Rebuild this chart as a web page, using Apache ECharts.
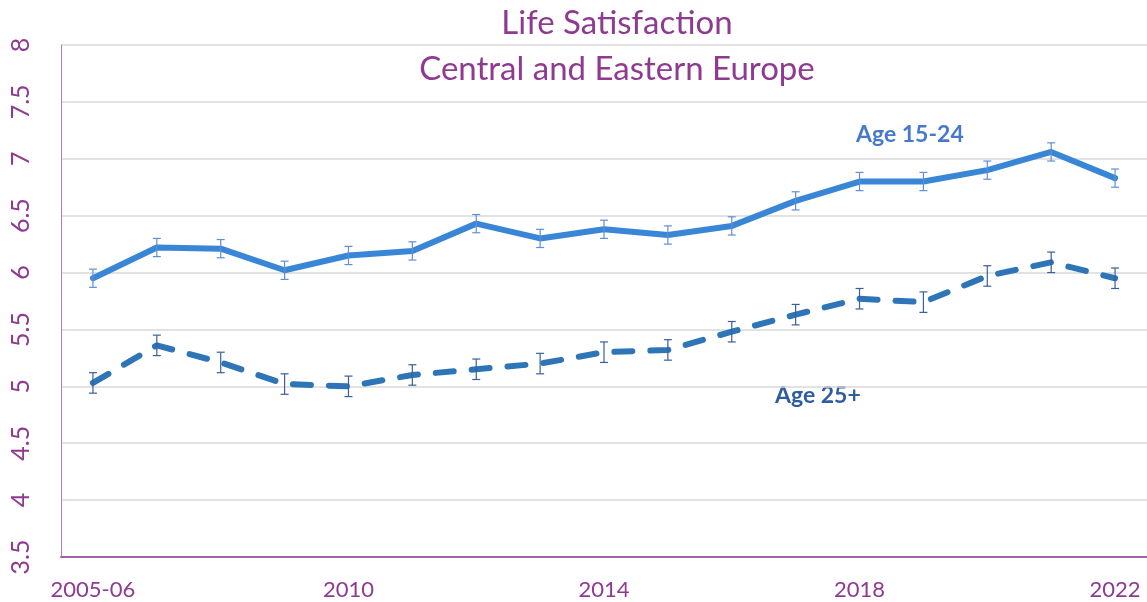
<!DOCTYPE html>
<html>
<head>
<meta charset="utf-8">
<script src="https://cdn.jsdelivr.net/npm/echarts@6/dist/echarts.min.js"></script>
<style>
  html, body { margin: 0; padding: 0; background: #fff; }
  #chart { width: 1147px; height: 602px; }
</style>
</head>
<body>
<div id="chart"></div>
<script>
// 数据
const years = ['2005-06', '2007', '2008', '2009', '2010', '2011', '2012', '2013', '2014',
    '2015', '2016', '2017', '2018', '2019', '2020', '2021', '2022'];
const youth = [5.95, 6.22, 6.21, 6.02, 6.15, 6.19, 6.43, 6.30, 6.38, 6.33, 6.41, 6.63, 6.80, 6.80, 6.90, 7.06, 6.83];
const youthErr = [0.08, 0.08, 0.08, 0.08, 0.08, 0.08, 0.08, 0.08, 0.08, 0.08, 0.08, 0.08, 0.08, 0.08, 0.08, 0.08, 0.08];
const adults = [5.03, 5.36, 5.21, 5.02, 5.00, 5.10, 5.15, 5.20, 5.30, 5.32, 5.48, 5.63, 5.77, 5.74, 5.97, 6.09, 5.95];
const adultsErr = [0.09, 0.09, 0.09, 0.09, 0.09, 0.09, 0.09, 0.09, 0.09, 0.09, 0.09, 0.09, 0.09, 0.09, 0.09, 0.09, 0.09];

const purple = '#8E3A91';
const font = 'Lato, "Open Sans", sans-serif';

const chart = echarts.init(document.getElementById('chart'));

function errData(vals, errs) {
    return vals.map(function (v, i) {
        return [i, v - errs[i], v + errs[i]];
    });
}

function errSeries(vals, errs, color) {
    return {
        type: 'custom',
        data: errData(vals, errs),
        z: 5,
        silent: true,
        renderItem: function (params, api) {
            const top = api.coord([api.value(0), api.value(2)]);
            const bot = api.coord([api.value(0), api.value(1)]);
            const w = 4;
            const style = { stroke: color, lineWidth: 1.2 };
            return {
                type: 'group',
                children: [
                    { type: 'line', shape: { x1: top[0], y1: top[1], x2: bot[0], y2: bot[1] }, style: style },
                    { type: 'line', shape: { x1: top[0] - w, y1: top[1], x2: top[0] + w, y2: top[1] }, style: style },
                    { type: 'line', shape: { x1: bot[0] - w, y1: bot[1], x2: bot[0] + w, y2: bot[1] }, style: style }
                ]
            };
        }
    };
}

const option = {
    backgroundColor: '#fff',
    animation: false,
    title: {
        text: 'Life Satisfaction\nCentral and Eastern Europe',
        left: 612,
        textAlign: 'center',
        top: -5,
        textStyle: {
            color: purple,
            fontFamily: font,
            fontWeight: 'normal',
            fontSize: 33,
            lineHeight: 46
        }
    },
    grid: { left: 61, right: -6, top: 45, bottom: 45 },
    xAxis: {
        type: 'category',
        data: years,
        boundaryGap: true,
        axisLine: { lineStyle: { color: '#A45FA8', width: 2 } },
        axisTick: { show: false },
        axisLabel: {
            interval: 3,
            color: purple,
            fontFamily: font,
            fontSize: 22,
            margin: 22
        }
    },
    yAxis: {
        type: 'value',
        min: 3.5,
        max: 8,
        interval: 0.5,
        axisLine: { show: true, lineStyle: { color: '#B77CBB', width: 1 } },
        axisTick: { show: false },
        axisLabel: {
            rotate: 90,
            color: purple,
            fontFamily: font,
            fontSize: 25,
            margin: 28
        },
        splitLine: { lineStyle: { color: '#D9D9D9', width: 1.5 } }
    },
    series: [
        {
            name: 'Age 15-24',
            type: 'line',
            data: youth,
            symbol: 'none',
            z: 3,
            lineStyle: { color: '#3A86D6', width: 6, cap: 'round', join: 'round' }
        },
        {
            name: 'Age 25+',
            type: 'line',
            data: adults,
            symbol: 'none',
            z: 3,
            lineStyle: { color: '#2E75B8', width: 6, type: [18, 18], cap: 'round', join: 'round' }
        },
        errSeries(youth, youthErr, '#5F8FD8'),
        errSeries(adults, adultsErr, '#3A5E9E')
    ],
    graphic: [
        {
            type: 'text', left: 856, top: 123,
            style: { text: 'Age 15-24', fill: '#4679CC', font: 'bold 23px ' + font }
        },
        {
            type: 'text', left: 775, top: 384,
            style: { text: 'Age 25+', fill: '#2F5C9E', font: 'bold 23px ' + font }
        }
    ]
};

chart.setOption(option);
</script>
</body>
</html>
